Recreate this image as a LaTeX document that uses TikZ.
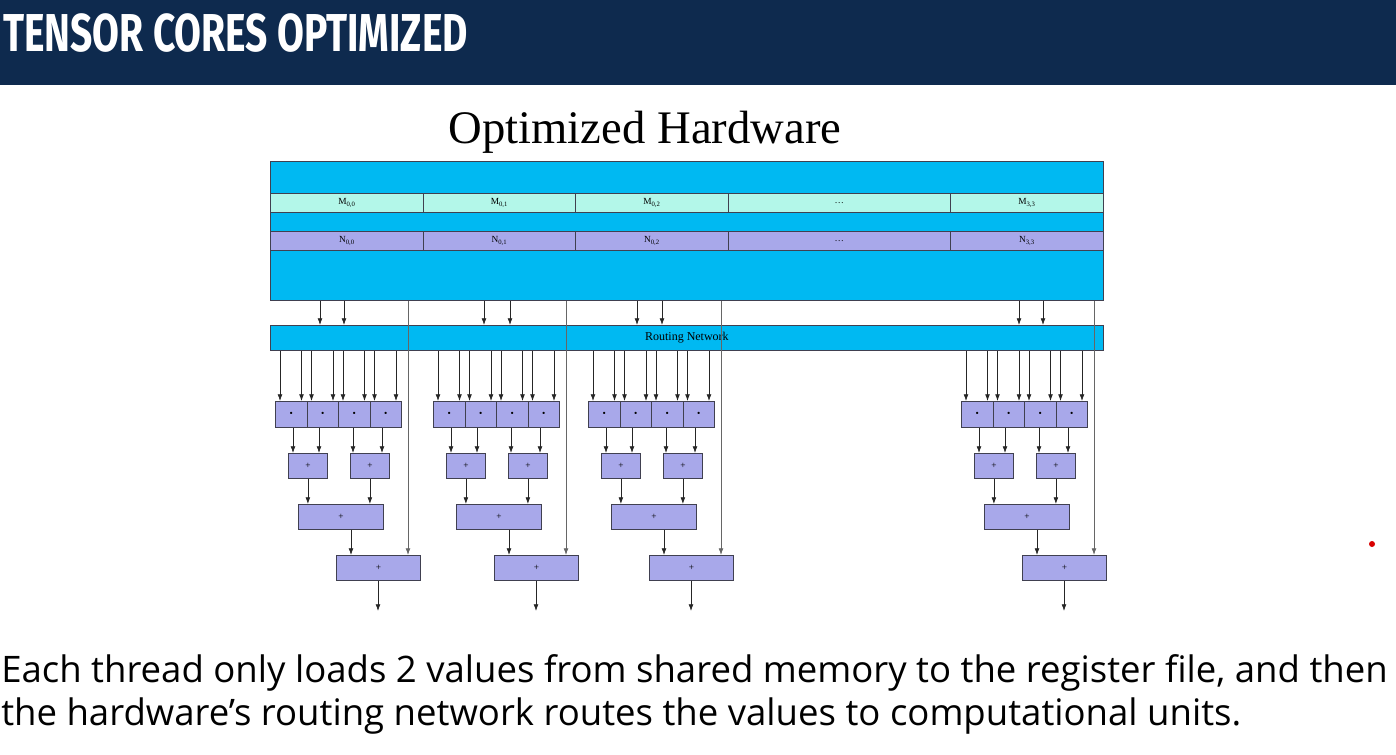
\documentclass[tikz,border=0pt]{standalone}
\usepackage{fontspec}
\setmainfont{Liberation Serif}
\newfontfamily\hdrfont{Fira Sans}
\newfontfamily\bodyfont{Open Sans}
\usetikzlibrary{arrows.meta}
\definecolor{navy}{HTML}{0E2A4E}
\definecolor{cyanb}{HTML}{00B9F2}
\definecolor{aqua}{HTML}{B3F7E9}
\definecolor{lav}{HTML}{A8A8EA}
\definecolor{edge}{HTML}{404050}
\newcommand\sbx[1]{\textsubscript{#1}}
\begin{document}
\begin{tikzpicture}[x=0.75pt,y=-0.75pt,
  bx/.style args={#1/#2}{draw=edge,line width=0.6pt,anchor=north west,inner sep=0pt,
     minimum width=#1*0.75pt,minimum height=#2*0.75pt},
  lbl/.style={font=\fontsize{7}{7}\selectfont},
  arr/.style={draw=black!85,line width=0.55pt,-{Latex[length=5pt,width=3.6pt]}},
  ln/.style={draw=black!60,line width=0.6pt}]
\useasboundingbox (0,0) rectangle (1396,754);
\fill[white] (0,0) rectangle (1396,754);
% header
\node[bx=1396/85,fill=navy,draw=none] (hdr) at (0,0) {};
\node[anchor=west,text=white,inner sep=0pt] (title) at (3,33)
  {\scalebox{0.73}[1]{\hdrfont\bfseries\fontsize{40}{40}\selectfont TENSOR CORES OPTIMIZED}};
\node[font=\fontsize{35}{35}\selectfont] (oh) at (645,132) {Optimized Hardware};
% outer memory box
\node[bx=833/139,fill=cyanb] (mem) at (270,161) {};
\foreach \xa/\xb/\t [count=\i] in {270/423/{M\sbx{0,0}},423/575/{M\sbx{0,1}},575/728/{M\sbx{0,2}},728/950/{\dots},950/1103/{M\sbx{3,3}}}{
  \pgfmathsetmacro\w{\xb-\xa}
  \node[bx=\w/19,fill=aqua,lbl] (m\i) at (\xa,193) {\t};
}
\foreach \xa/\xb/\t [count=\i] in {270/423/{N\sbx{0,0}},423/575/{N\sbx{0,1}},575/728/{N\sbx{0,2}},728/950/{\dots},950/1103/{N\sbx{3,3}}}{
  \pgfmathsetmacro\w{\xb-\xa}
  \node[bx=\w/19,fill=lav,lbl] (n\i) at (\xa,231) {\t};
}
\node[bx=833/25,fill=cyanb,font=\fontsize{9}{9}\selectfont] (rn) at (270,325) {Routing Network};
% groups
\foreach \s/\a/\b [count=\g] in {275/320/344, 433/484/510, 588/637/662, 961/1019/1043}{
  \draw[arr] (mem.south -| \a,0) -- (rn.north -| \a,0);
  \draw[arr] (mem.south -| \b,0) -- (rn.north -| \b,0);
  \foreach \k in {0,1,2,3}{
    \pgfmathsetmacro\mx{\s+31.5*\k}
    \node[bx=31.5/26,fill=lav,lbl] (p\g\k) at (\mx,401) {\textbullet};
    \pgfmathsetmacro\la{\mx+5}\pgfmathsetmacro\lb{\mx+26.5}
    \draw[arr] (rn.south -| \la,0) -- (p\g\k.north -| \la,0);
    \draw[arr] (rn.south -| \lb,0) -- (p\g\k.north -| \lb,0);
  }
  \node[bx=39/25,fill=lav,lbl] (q\g a) at (\s+13,453) {+};
  \node[bx=39/25,fill=lav,lbl] (q\g b) at (\s+75,453) {+};
  \draw[arr] (p\g0.south -| \s+18,0) -- (q\g a.north -| \s+18,0);
  \draw[arr] (p\g1.south -| \s+44,0) -- (q\g a.north -| \s+44,0);
  \draw[arr] (p\g2.south -| \s+78,0) -- (q\g b.north -| \s+78,0);
  \draw[arr] (p\g3.south -| \s+107,0) -- (q\g b.north -| \s+107,0);
  \node[bx=85/25,fill=lav,lbl] (r\g) at (\s+23,504) {+};
  \draw[arr] (q\g a.south) -- (r\g.north -| q\g a.south);
  \draw[arr] (q\g b.south) -- (r\g.north -| q\g b.south);
  \node[bx=84/25,fill=lav,lbl] (f\g) at (\s+61,555) {+};
  \draw[arr] (r\g.south -| \s+76,0) -- (f\g.north -| \s+76,0);
  \draw[ln,-{Latex[length=5pt,width=3.6pt]}] (mem.south -| \s+133,0) -- (f\g.north -| \s+133,0);
  \coordinate (o\g) at (\s+103,611);
  \draw[arr] (f\g.south -| o\g) -- (o\g);
}
\fill[red!85!black] (1372,544) circle[radius=3];
\node[anchor=west,inner sep=0pt,font=\bodyfont\fontsize{27.4}{27.4}\selectfont] (t1) at (1,673)
  {Each thread only loads 2 values from shared memory to the register file, and then};
\node[anchor=west,inner sep=0pt,font=\bodyfont\fontsize{27.4}{27.4}\selectfont] (t2) at (1,716)
  {the hardware’s routing network routes the values to computational units.};
\end{tikzpicture}
\end{document}
